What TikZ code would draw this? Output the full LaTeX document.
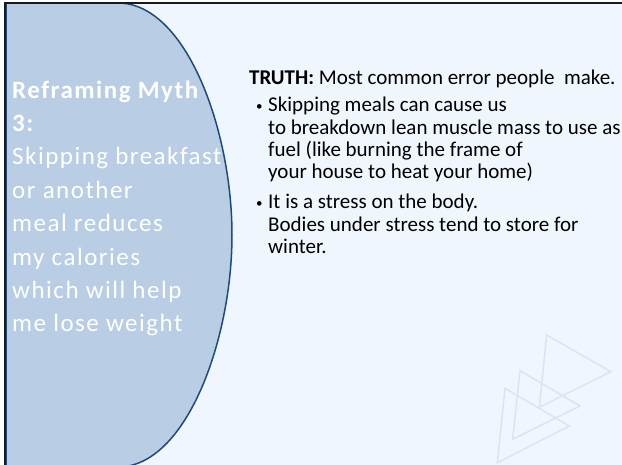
\documentclass[tikz,border=0pt]{standalone}
\usepackage{fontspec}
\setmainfont{Carlito}
\newfontfamily\mythfont[LetterSpace=6]{Carlito}
\definecolor{bgblue}{HTML}{EFF6FE}
\definecolor{shapefill}{HTML}{B9CDE4}
\definecolor{shapeedge}{HTML}{1F4A7E}
\definecolor{tri}{HTML}{DCE4F0}
\definecolor{frame}{HTML}{1A1A1A}
\tikzset{
  lefttext/.style={anchor=base west, inner sep=0pt, align=left, text=white,
    font=\mythfont\fontsize{25}{33.4}\selectfont},
  righttext/.style={anchor=base west, inner sep=0pt, align=left, text=black,
    font=\fontsize{21}{22.2}\selectfont},
  bulletmark/.style={anchor=base west, inner sep=0pt, font=\fontsize{13}{16}\selectfont},
  wmtri/.style={draw=tri, line width=1.5pt, line join=miter}
}
\begin{document}
\begin{tikzpicture}[x=1pt,y=-1pt]
\useasboundingbox (0,0) rectangle (622,465);
\clip (0,0) rectangle (622,465);
\fill[white] (0,0) rectangle (622,465);
\fill[bgblue] (5,3) rectangle (622,465);
% watermark triangles
\draw[wmtri] (546.7,335) -- (610.7,371.7) -- (539.3,407.3) -- cycle;
\draw[wmtri] (520,370.7) -- (580,406) -- (512.7,439.3) -- cycle;
\draw[wmtri] (505,388.3) -- (569.3,426) -- (497.3,462.7) -- cycle;
% delay shape
\draw[fill=shapefill, draw=shapeedge, line width=1.5pt]
  (6,467) -- (6,3) -- (118,3)
  .. controls (186,3) and (232,130) .. (232,235)
  .. controls (232,340) and (186,467) .. (118,467) -- cycle;
% frame lines
\draw[frame, line width=2pt] (4,3) -- (622,3);
\draw[frame, line width=2pt] (4.5,2) -- (4.5,465);
% left text
\node[lefttext] (myth) at (12,331.8) {{\bfseries Reframing Myth}\\{\bfseries 3:}\\Skipping breakfast\\or another\\meal reduces\\my calories\\which will help\\me lose weight};
% right text
\node[righttext] (truth) at (249,85) {\textbf{TRUTH:} Most common error people\ \ make.};
\node[bulletmark] (b1) at (256,111) {\textbullet};
\node[righttext] (p1) at (268,178.6) {Skipping meals can cause us\\to breakdown lean muscle mass to use as\\fuel (like burning the frame of\\your house to heat your home)};
\node[bulletmark] (b2) at (256,208) {\textbullet};
\node[righttext] (p2) at (268,253.4) {It is a stress on the body.\\Bodies under stress tend to store for\\winter.};
\end{tikzpicture}
\end{document}
